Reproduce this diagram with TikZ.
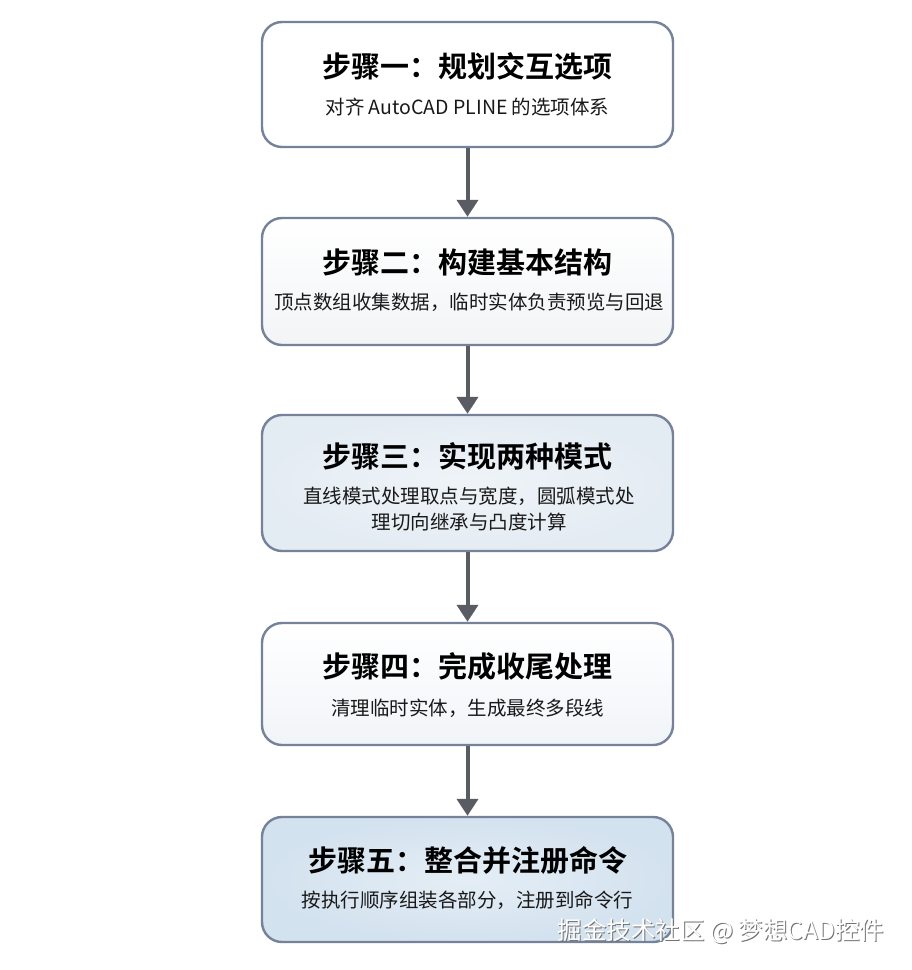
\documentclass[tikz,border=0pt]{standalone}
\usepackage{fontspec}
\setmainfont{Noto Sans CJK SC}
\newfontfamily\cjkb{Noto Sans CJK SC Bold}
\usetikzlibrary{arrows.meta,shadings}
\definecolor{bordc}{HTML}{76829A}
\definecolor{arrc}{HTML}{595C62}
\definecolor{fillA}{HTML}{FFFFFF}
\definecolor{fillB}{HTML}{F2F4F6}
\definecolor{fillC}{HTML}{E4ECF3}
\definecolor{fillD}{HTML}{F1F4F8}
\definecolor{fillE}{HTML}{D3E2EF}
\tikzset{
  stepbox/.style={draw=bordc, line width=2.4pt, rounded corners=20pt, minimum width=411pt, align=center, inner sep=0pt},
  ttl/.style={font=\cjkb\fontsize{29}{34}\selectfont, text=black},
  sub/.style={font=\fontsize{19.5}{26}\selectfont, text=black!90, align=center},
  conn/.style={draw=arrc, line width=4pt, -{Triangle[width=21pt,length=17pt]}}
}
\begin{document}
\begin{tikzpicture}[x=1pt,y=-1pt]
\useasboundingbox (0,0) rectangle (912,970);
\fill[white] (0,0) rectangle (912,970);
% boxes
\node[stepbox, fill=fillA, minimum height=125pt] (b1) at (467.5,84.5) {};
\node[stepbox, top color=white, bottom color=fillB, minimum height=127pt] (b2) at (467.5,281.5) {};
\node[stepbox, inner color=fillC!60, outer color=fillC, minimum height=136pt] (b3) at (467.5,483) {};
\node[stepbox, top color=white, bottom color=fillD, minimum height=122pt] (b4) at (467.5,684) {};
\node[stepbox, inner color=fillE!60, outer color=fillE, minimum height=125pt] (b5) at (467.5,879.5) {};
% texts
\node[ttl] (t1) at (467.5,66) {步骤一：规划交互选项};
\node[sub] (s1) at (467.5,107) {对齐 AutoCAD PLINE 的选项体系};
\node[ttl] (t2) at (467.5,262) {步骤二：构建基本结构};
\node[sub] (s2) at (469,302) {顶点数组收集数据，临时实体负责预览与回退};
\node[ttl] (t3) at (467.5,456) {步骤三：实现两种模式};
\node[sub] (s3) at (469,509) {直线模式处理取点与宽度，圆弧模式处\\理切向继承与凸度计算};
\node[ttl] (t4) at (467.5,666) {步骤四：完成收尾处理};
\node[sub] (s4) at (467.5,708) {清理临时实体，生成最终多段线};
\node[ttl] (t5) at (467.5,860) {步骤五：整合并注册命令};
\node[sub] (s5) at (467.5,900) {按执行顺序组装各部分，注册到命令行};
% connectors
\draw[conn] (b1.south) -- (b2.north);
\draw[conn] (b2.south) -- (b3.north);
\draw[conn] (b3.south) -- (b4.north);
\draw[conn] (b4.south) -- (b5.north);
% watermark
\node[font=\fontsize{24.5}{28}\selectfont, text=black!55] (wm0) at (721.8,931.8) {掘金技术社区 @ 梦想CAD控件};
\node[font=\fontsize{24.5}{28}\selectfont, text=white] (wm) at (721,931) {掘金技术社区 @ 梦想CAD控件};
\end{tikzpicture}
\end{document}
